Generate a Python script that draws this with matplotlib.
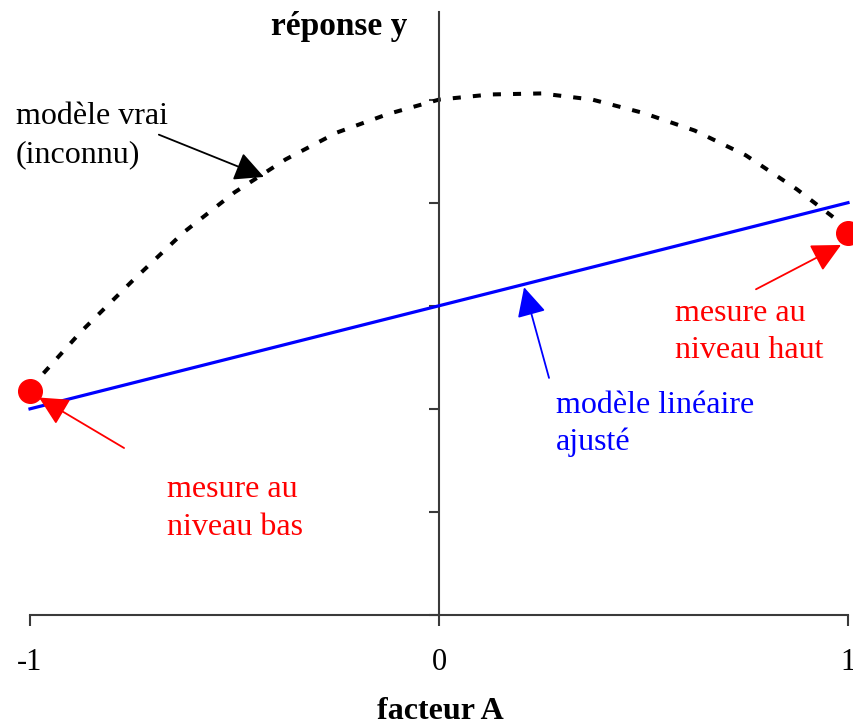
import numpy as np
import matplotlib.pyplot as plt

plt.rcParams['font.family'] = ['Liberation Serif', 'DejaVu Serif']

# niveaux du facteur A
levels = [-1, 0, 1]

# modèle vrai (inconnu), relevé point par point
true_x = [-1, -0.875, -0.75, -0.625, -0.5, -0.375, -0.25, -0.125, 0,
          0.125, 0.25, 0.375, 0.5, 0.625, 0.75, 0.875, 1]
true_y = [2.2, 2.75, 3.24, 3.71, 4.1, 4.42, 4.68, 4.86, 5.0,
          5.05, 5.06, 5.0, 4.87, 4.70, 4.46, 4.13, 3.75]

# modèle linéaire ajusté
fit_x = [-1, 1]
fit_y = [2.0, 4.0]

# mesures aux niveaux bas et haut
meas_x = [-1, 1]
meas_y = [2.17, 3.71]

fig = plt.figure(figsize=(8.54, 7.28), dpi=100)
ax = fig.add_axes([30 / 854, 113 / 728, 818 / 854, 603 / 728])
ax.set_xlim(-1, 1)
ax.set_ylim(0, 5.85)

axis_col = '#3a3a3a'
for side in ['top', 'right']:
    ax.spines[side].set_visible(False)
ax.spines['left'].set_position(('data', 0))
ax.spines['left'].set_color(axis_col)
ax.spines['bottom'].set_color(axis_col)
ax.spines['left'].set_linewidth(1.5)
ax.spines['bottom'].set_linewidth(1.5)

ax.set_xticks(levels)
ax.set_xticklabels([str(v) for v in levels], fontsize=22)
ax.tick_params(axis='x', direction='out', length=8, width=1.5,
               color=axis_col, pad=16)
ax.set_yticks(range(6))
ax.set_yticklabels([])
ax.tick_params(axis='y', direction='out', length=7, width=1.5,
               color=axis_col)

# courbes
ax.plot(true_x, true_y, color='black', lw=2.9, dashes=(2.0, 3.0),
        clip_on=False, zorder=2)
ax.plot(fit_x, fit_y, color='#0000ff', lw=2.3, clip_on=False, zorder=3)
ax.plot(meas_x, meas_y, 'o', color='#ff0000', ms=17, clip_on=False,
        zorder=4)

# titres des axes
ax.text(-0.244, 5.63, 'réponse y', fontsize=24, fontweight='bold',
        ha='center', va='baseline')
fig.text(440 / 854, 9 / 728, 'facteur A', fontsize=23, fontweight='bold',
         ha='center', va='baseline')

# annotations
head = '-|>,head_length=1.0,head_width=0.5'

ax.annotate('', xy=(-0.428, 4.25), xytext=(-0.685, 4.66),
            arrowprops=dict(arrowstyle=head, mutation_scale=18,
                            color='black', lw=1.3, shrinkA=0, shrinkB=0))
ax.text(-1.034, 4.39, 'modèle vrai\n(inconnu)', fontsize=23,
        ha='left', va='baseline', linespacing=1.42)

ax.annotate('', xy=(0.208, 3.18), xytext=(0.269, 2.30),
            arrowprops=dict(arrowstyle=head, mutation_scale=18,
                            color='#0000ff', lw=1.3, shrinkA=0, shrinkB=0))
ax.text(0.286, 1.60, 'modèle linéaire\najusté', fontsize=23,
        color='#0000ff', ha='left', va='baseline', linespacing=1.32)

ax.annotate('', xy=(0.983, 3.59), xytext=(0.775, 3.16),
            arrowprops=dict(arrowstyle=head, mutation_scale=18,
                            color='#ff0000', lw=1.3, shrinkA=0, shrinkB=0))
ax.text(0.577, 2.49, 'mesure au\nniveau haut', fontsize=23,
        color='#ff0000', ha='left', va='baseline', linespacing=1.4)

ax.annotate('', xy=(-0.978, 2.11), xytext=(-0.770, 1.62),
            arrowprops=dict(arrowstyle=head, mutation_scale=18,
                            color='#ff0000', lw=1.3, shrinkA=0, shrinkB=0))
ax.text(-0.665, 0.78, 'mesure au\nniveau bas', fontsize=23,
        color='#ff0000', ha='left', va='baseline', linespacing=1.4)

fig.savefig('out.png', dpi=100)
